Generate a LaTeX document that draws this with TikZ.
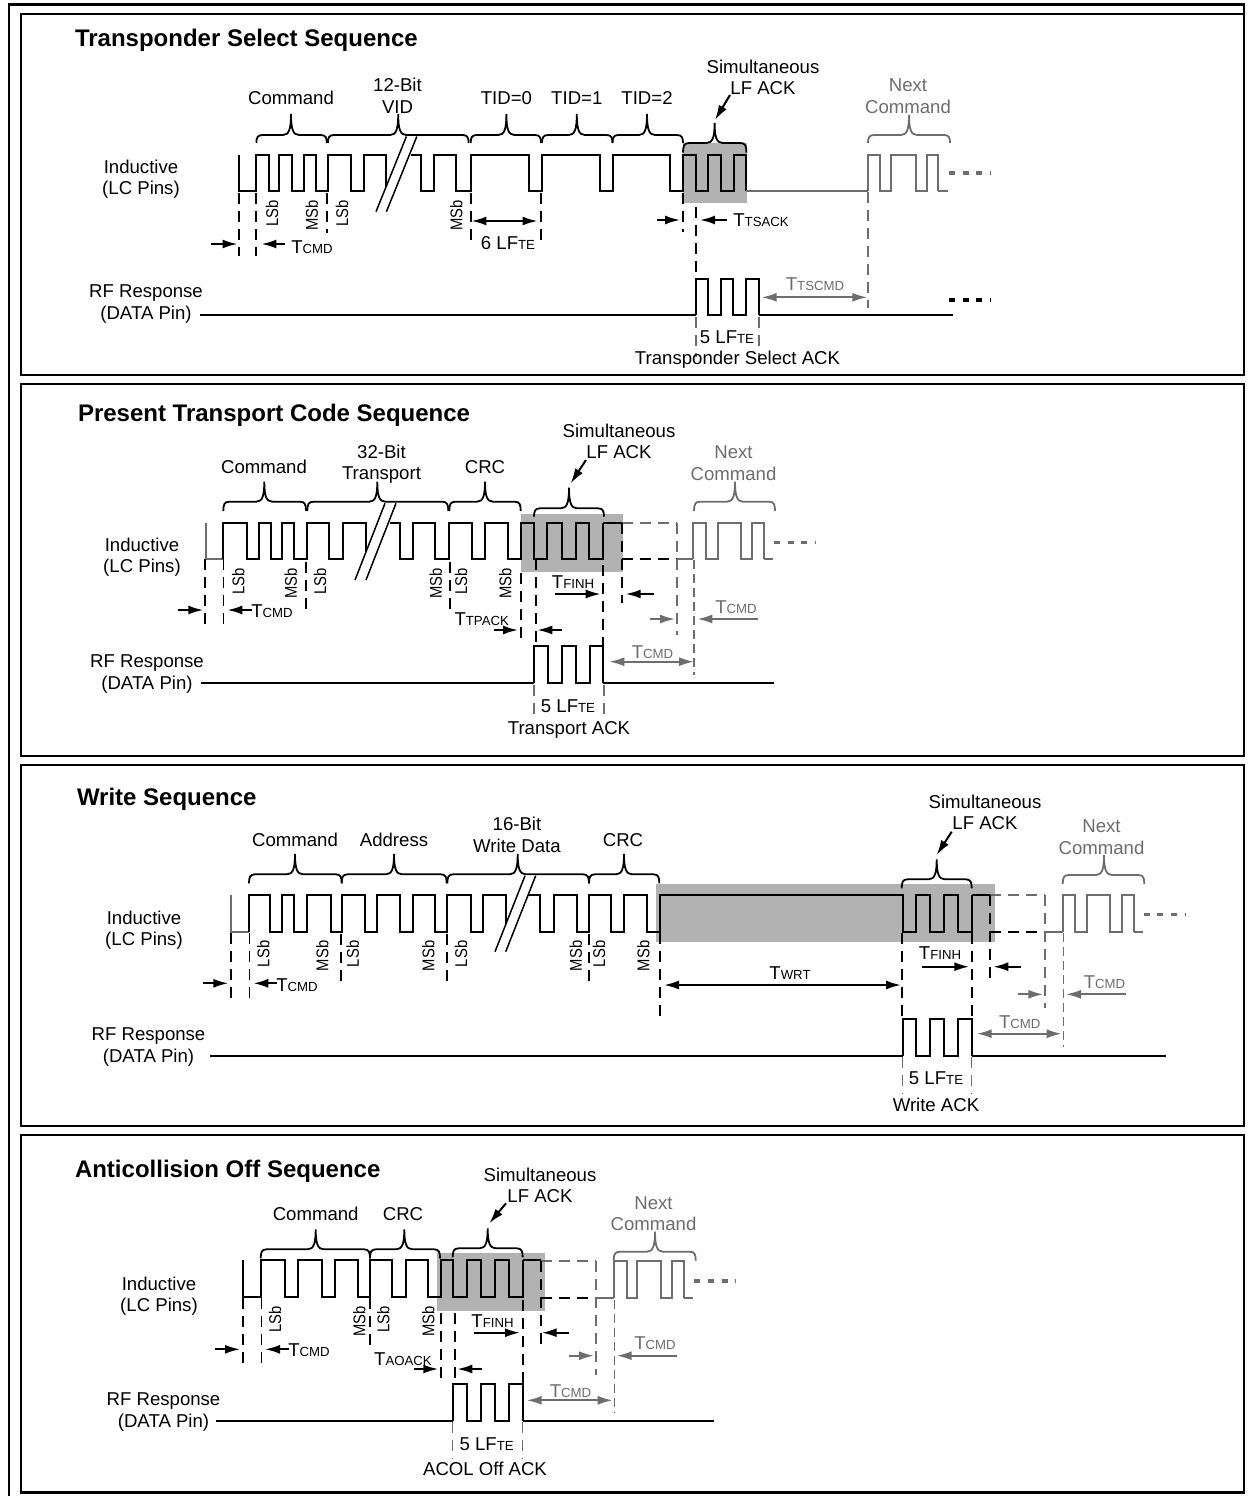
\documentclass[tikz,border=0pt]{standalone}
\usepackage{fontspec}
\usepackage{graphicx}
\setmainfont{Liberation Sans}
\usetikzlibrary{arrows.meta}
\definecolor{gw}{HTML}{6D6D6D}
\definecolor{ackfill}{HTML}{B2B2B2}
\newcounter{txc}
\newcommand\Tl[1]{T{\fontsize{13.2}{13.2}\selectfont #1}}
\tikzset{
  txt/.style={inner sep=0pt,outer sep=0pt,align=center,font=\fontsize{18.6}{21.6}\selectfont},
  ttl/.style={inner sep=0pt,outer sep=0pt,anchor=west,font=\fontsize{24}{26}\selectfont\bfseries},
  bitlab/.style={inner sep=0pt,outer sep=0pt,rotate=90,anchor=east,font=\fontsize{17}{18}\selectfont},
  frm/.style={line width=2.4pt,line cap=rect},
  wv/.style={line width=2pt,black,line join=miter},
  gwv/.style={line width=2pt,gw,line join=miter},
  brcb/.style={line width=1.8pt,black},
  brcg/.style={line width=1.8pt,gw},
  dsh/.style={line width=2pt,black,dash pattern=on 11pt off 7pt},
  thd/.style={line width=1.2pt,black,dash pattern=on 11pt off 7pt},
  gdsh/.style={line width=2pt,gw,dash pattern=on 11pt off 7pt},
  gthd/.style={line width=1.4pt,gw,dash pattern=on 11pt off 7pt},
  gtin/.style={line width=1.3pt,gw,dash pattern=on 9pt off 5pt},
  dots/.style={line width=3.2pt,dash pattern=on 6pt off 7.7pt},
  arrb/.style={line width=2pt,black,-{Latex[length=15pt,width=9pt]}},
  arrg/.style={line width=2pt,gw,-{Latex[length=15pt,width=9pt]}},
  dblb/.style={line width=2pt,black,{Latex[length=15pt,width=9pt]}-{Latex[length=15pt,width=9pt]}},
  dblg/.style={line width=2pt,gw,{Latex[length=15pt,width=9pt]}-{Latex[length=15pt,width=9pt]}},
  sl/.style={line width=1.5pt,black},
}
% text node with its own name
\newcommand\tx[4][]{\stepcounter{txc}\node[txt,#1] (t\arabic{txc}) at (#2,#3) {#4};}
\newcommand\bl[3]{\stepcounter{txc}\node[bitlab] (t\arabic{txc}) at (#1,#2) {\scalebox{0.87}[1]{#3}};}
% wave: style, start path, high, low, list of edge positions (starts at low)
\newcommand\wave[5]{\draw[#1] #2 \foreach \a [count=\i] in {#5} { -| (\a,{ifthenelse(isodd(\i),#3,#4)}) };}
% brace: style,x1,x2,xm,ytip,yh,ybot
\newcommand\brc[7]{\draw[#1] (#2,#7) .. controls (#2,{#6+3}) and ({#2+1},#6) .. ({#2+6},#6) -- ({#4-8},#6) .. controls ({#4-2},#6) and (#4,{#6-6}) .. (#4,#5) .. controls (#4,{#6-6}) and ({#4+2},#6) .. ({#4+8},#6) -- ({#3-6},#6) .. controls ({#3-1},#6) and (#3,{#6+3}) .. (#3,#7);}
% break mark: x1 y1 x2 y2 (left line) dx
\newcommand\brk[5]{\fill[white] (#1,#2) -- (#3,#4) -- ({#3+#5},#4) -- ({#1+#5},#2) -- cycle; \draw[sl] (#1,#2) -- (#3,#4); \draw[sl] ({#1+#5},#2) -- ({#3+#5},#4);}
\begin{document}
\begin{tikzpicture}[x=1pt,y=-1pt]
\useasboundingbox (0,0) rectangle (1254,1496);
\fill[white] (0,0) rectangle (1254,1496);
% frames
\draw[frm] (9,1497) -- (9,4.5) -- (1244,4.5) -- (1244,14);
\draw[frm] (21,14) rectangle (1244,374.7);
\draw[frm] (21,384) rectangle (1244,755.7);
\draw[frm] (21,765) rectangle (1244,1126);
\draw[frm] (21,1135) -- (21,1492.5) -- (1244,1492.5) -- (1244,1135) -- cycle;

%%%%%%%%%%%% PANEL 1
\fill[ackfill] (683,143) rectangle (747,202.7);
\wave{wv}{(238.6,155)--(238.6,190.7)}{155}{190.7}{256.4,268.6,279.3,292,303.6,316,327.9,350.7,363.6,386.4}
\wave{wv}{(410.7,155)--(421.4,155)--(421.4,190.7)}{155}{190.7}{434,456.4,470.7,528.6,542,600,612.5,670,683,695.7,707.9,721.4,734,746.4}
\draw[gwv] (746.4,190.7) -- (868,190.7);
\wave{gwv}{(868,190.7)--(868,190.7)}{155}{190.7}{868,880,891,916,927,938}
\draw[gwv] (938,190.7) -- (948,190.7);
\draw[gw,dots] (949,173) -- (991,173);
\brc{brcb}{256.4}{326.8}{291}{114}{135}{143}
\brc{brcb}{327.9}{468.6}{398.2}{114}{135}{143}
\brc{brcb}{470.7}{541}{506.4}{114}{135}{143}
\brc{brcb}{542}{612.5}{576.8}{114}{135}{143}
\brc{brcb}{612.5}{683}{647}{114}{135}{143}
\brc{brcb}{683}{746.4}{714.6}{123}{143}{152.7}
\brc{brcg}{868}{950}{909}{115}{135}{143}
\brk{406.4}{136.5}{376}{211.7}{10.4}
\draw[dsh] (238.6,193) -- (238.6,256);
\draw[dsh] (256.4,193) -- (256.4,256);
\draw[dsh] (327,193) -- (327,233);
\draw[dsh] (470.7,193) -- (470.7,243);
\draw[dsh] (541,193) -- (541,243);
\draw[dsh] (683,193) -- (683,232);
\draw[dsh] (695.7,206.7) -- (695.7,278);
\draw[gdsh] (868,191.7) -- (868,308.3);
\draw[gthd] (696,317) -- (696,357);
\draw[gthd] (759,317) -- (759,357);
\coordinate (a1s) at (730,95); \coordinate (a1e) at (715,120);
\draw[arrb] (a1s) -- (a1e);
\draw[arrb] (211.4,244) -- (237.5,244);
\draw[arrb] (285,244) -- (261.4,244);
\draw[dblb] (471.4,221) -- (537.5,221);
\draw[arrb] (657,220) -- (680,220);
\draw[arrb] (726.7,220) -- (700,220);
\draw[dblg] (761.7,297.3) -- (867.3,297.3);
\draw[wv] (200,315.2) -- (696.2,315.2);
\wave{wv}{(696.2,315.2)--(696.2,315.2)}{279}{315.2}{696.2,708.3,720.7,733.3,746,759}
\draw[wv] (759,315.2) -- (953.3,315.2);
\draw[dots] (949,300) -- (991,300);
\tx[ttl]{75}{40}{Transponder Select Sequence}
\tx{141}{179}{Inductive\\(LC Pins)}
\tx{146}{304}{RF Response\\(DATA Pin)}
\tx{291}{98}{Command}
\tx{397.5}{96}{12-Bit\\VID}
\tx{506.4}{98}{TID=0}
\tx{576.8}{98}{TID=1}
\tx{647}{98}{TID=2}
\tx{763}{77.5}{Simultaneous\\LF ACK}
\tx[text=gw]{908}{96}{Next\\Command}
\tx{312}{247}{\Tl{CMD}}
\tx{508}{243}{6 LF{\fontsize{13.2}{13.2}\selectfont TE}}
\tx{761}{220}{\Tl{TSACK}}
\tx[text=gw]{815}{284}{\Tl{TSCMD}}
\tx{727}{337}{5 LF{\fontsize{13.2}{13.2}\selectfont TE}}
\tx{737.5}{360}{Transponder Select ACK}
\bl{272}{200}{LSb}
\bl{311.8}{200}{MSb}
\bl{342}{200}{LSb}
\bl{456.4}{200}{MSb}

%%%%%%%%%%%% PANEL 2
\fill[ackfill] (520.7,514) rectangle (622.7,571.7);
\draw[gwv] (205.7,522.7) -- (205.7,558.7) -- (222.7,558.7);
\wave{wv}{(222.7,558.7)--(222.7,558.7)}{522.7}{558.7}{222.7,247.3,259,270.7,281.7,294,306.7,329.3,342.7,366}
\wave{wv}{(390,522.7)--(400,522.7)--(400,558.7)}{522.7}{558.7}{412.7,435,449.3,471.7,485,507.7,520.7,534,547.3,561.7,575.7,589.3,603.3}
\draw[wv] (603.3,522.7) -- (621.7,522.7);
\draw[dsh] (621.7,558.7) -- (676,558.7);
\draw[gdsh] (621.7,522.7) -- (676.7,522.7);
\draw[gdsh] (676.7,522.7) -- (676.7,635);
\draw[gwv] (676.7,558.7) -- (693.3,558.7);
\wave{gwv}{(693.3,558.7)--(693.3,558.7)}{522.7}{558.7}{693.3,706,718.3,740.7,752.3,764}
\draw[gwv] (764,558.7) -- (773.3,558.7);
\draw[gw,dots] (774,542.3) -- (816,542.3);
\brc{brcb}{223.3}{306}{264.3}{481.7}{501.7}{511}
\brc{brcb}{307.3}{448.3}{377.3}{481.7}{501.7}{511}
\brc{brcb}{449.3}{520.7}{485}{481.7}{501.7}{511}
\brc{brcb}{534}{604}{569}{487.7}{508.3}{516.7}
\brc{brcg}{694}{775}{735}{481.7}{501.7}{511}
\brk{385}{503.3}{355}{580}{11}
\draw[dsh] (205,559) -- (205,628);
\draw[thd] (223.3,559) -- (223.3,628);
\draw[dsh] (306,561.7) -- (306,610);
\draw[dsh] (450,561.7) -- (450,610);
\draw[dsh] (520.7,573) -- (520.7,641.7);
\draw[dsh] (535.7,559.3) -- (535.7,643);
\draw[dsh] (603.3,565) -- (603.3,646);
\draw[dsh] (621.7,523) -- (621.7,603);
\draw[gtin] (694,560) -- (694,675);
\draw[gthd] (534,685) -- (534,718.3);
\draw[gthd] (604,685) -- (604,718.3);
\coordinate (a2s) at (586,460); \coordinate (a2e) at (570.7,483.3);
\draw[arrb] (a2s) -- (a2e);
\draw[arrb] (178.3,610) -- (203.3,610);
\draw[arrb] (251.7,610) -- (227.3,610);
\draw[arrb] (494,630) -- (518,630);
\draw[arrb] (562.3,630) -- (537.3,630);
\draw[arrb] (555,594) -- (600.7,594);
\draw[arrb] (654,594) -- (625.7,594);
\draw[arrg] (650,619) -- (675,619);
\draw[arrg] (757.7,619) -- (697.3,619);
\draw[dblg] (609.3,661.7) -- (694,661.7);
\draw[wv] (201,682.7) -- (534,682.7);
\wave{wv}{(534,682.7)--(534,682.7)}{645.7}{682.7}{534,547.7,561.7,576,590,603.3}
\draw[wv] (603.3,682.7) -- (774,682.7);
\tx[ttl]{78}{415}{Present Transport Code Sequence}
\tx{142}{557}{Inductive\\(LC Pins)}
\tx{147}{674}{RF Response\\(DATA Pin)}
\tx{264}{467}{Command}
\tx{381.5}{464}{32-Bit\\Transport}
\tx{485}{467}{CRC}
\tx{619}{441.5}{Simultaneous\\LF ACK}
\tx[text=gw]{733.5}{463}{Next\\Command}
\tx{272}{611}{\Tl{CMD}}
\tx{481.7}{619}{\Tl{TPACK}}
\tx{573}{581.7}{\Tl{FINH}}
\tx[text=gw]{736}{606.7}{\Tl{CMD}}
\tx[text=gw]{652.5}{651.7}{\Tl{CMD}}
\tx{568}{706}{5 LF{\fontsize{13.2}{13.2}\selectfont TE}}
\tx{569}{730}{Transport ACK}
\bl{238.3}{568}{LSb}
\bl{290.7}{568}{MSb}
\bl{320}{568}{LSb}
\bl{435.7}{568}{MSb}
\bl{461}{568}{LSb}
\bl{505.4}{568}{MSb}

%%%%%%%%%%%% PANEL 3
\fill[ackfill] (656,884) rectangle (995,941.7);
\draw[gwv] (230.7,895) -- (230.7,931.7) -- (249,931.7);
\wave{wv}{(249,931.7)--(249,931.7)}{895}{931.7}{249,270,281.7,294,306.7,330.7,341.7,365,377.3,400,412.7,435,447.3,470.7,483.3,505.7}
\wave{wv}{(528.3,895)--(540,895)--(540,931.7)}{895}{931.7}{554,576.7,589,611,624,646.7,660,902.7,915.7,930,944,958.3,972.3}
\draw[wv] (972.3,895) -- (990,895);
\draw[dsh] (990,931.7) -- (1045,931.7);
\draw[gdsh] (990,895) -- (1045,895);
\draw[gdsh] (1045,895) -- (1045,1008);
\draw[gwv] (1045,931.7) -- (1062.7,931.7);
\wave{gwv}{(1062.7,931.7)--(1062.7,931.7)}{895}{931.7}{1062.7,1075,1086.7,1110,1121.7,1134.3}
\draw[gwv] (1134.3,931.7) -- (1143.3,931.7);
\draw[gw,dots] (1143.5,914.3) -- (1185.5,914.3);
\brc{brcb}{249}{341.7}{295}{854}{874.3}{883.3}
\brc{brcb}{341.7}{446.7}{394}{854}{874.3}{883.3}
\brc{brcb}{447.3}{589}{517.7}{854}{874.3}{883.3}
\brc{brcb}{589}{659.3}{624}{854}{874.3}{883.3}
\brc{brcb}{901.7}{971.7}{936.7}{859.3}{879.3}{888.3}
\brc{brcg}{1062.7}{1144.3}{1104}{855}{875}{884}
\brk{525}{875.7}{495}{951.7}{10.7}
\draw[dsh] (230.7,933) -- (230.7,999);
\draw[thd] (249.3,933) -- (249.3,999);
\draw[dsh] (341,934) -- (341,982);
\draw[dsh] (446.7,934) -- (446.7,982);
\draw[dsh] (589,934) -- (589,982);
\draw[dsh] (660,933) -- (660,1020);
\draw[dsh] (902,933) -- (902,1017);
\draw[dsh] (971.7,933) -- (971.7,1018);
\draw[dsh] (990,895) -- (990,982);
\draw[gtin] (1063.3,933) -- (1063.3,1047);
\draw[gthd] (902.7,1057) -- (902.7,1093.3);
\draw[gthd] (971.7,1057) -- (971.7,1093.3);
\coordinate (a3s) at (951.7,831.7); \coordinate (a3e) at (936.7,855);
\draw[arrb] (a3s) -- (a3e);
\draw[arrb] (203.3,983.3) -- (228.3,983.3);
\draw[arrb] (277.3,983.3) -- (253.3,983.3);
\draw[dblb] (664,985) -- (901,985);
\draw[arrb] (921.7,966.7) -- (969.3,966.7);
\draw[arrb] (1021,966.7) -- (993.3,966.7);
\draw[arrg] (1018.3,994.3) -- (1043.3,994.3);
\draw[arrg] (1126,994.3) -- (1066,994.3);
\draw[dblg] (976.7,1033.7) -- (1061.7,1033.7);
\draw[wv] (210,1055.7) -- (902.7,1055.7);
\wave{wv}{(902.7,1055.7)--(902.7,1055.7)}{1019}{1055.7}{902.7,915.7,930,944,958.3,971.7}
\draw[wv] (971.7,1055.7) -- (1166,1055.7);
\tx[ttl]{77}{799}{Write Sequence}
\tx{144}{930}{Inductive\\(LC Pins)}
\tx{148.5}{1047}{RF Response\\(DATA Pin)}
\tx{295}{840}{Command}
\tx{394}{840}{Address}
\tx{517}{835}{16-Bit\\Write Data}
\tx{623}{840}{CRC}
\tx{985}{812.5}{Simultaneous\\LF ACK}
\tx[text=gw]{1101.5}{837}{Next\\Command}
\tx{297}{985}{\Tl{CMD}}
\tx{790}{973}{\Tl{WRT}}
\tx{940}{953.3}{\Tl{FINH}}
\tx[text=gw]{1104.5}{982.3}{\Tl{CMD}}
\tx[text=gw]{1019.7}{1022.3}{\Tl{CMD}}
\tx{936}{1078.3}{5 LF{\fontsize{13.2}{13.2}\selectfont TE}}
\tx{936}{1105}{Write ACK}
\bl{263.3}{940.7}{LSb}
\bl{322.3}{940.7}{MSb}
\bl{352.7}{940.7}{LSb}
\bl{428.3}{940.7}{MSb}
\bl{461}{940.7}{LSb}
\bl{575.7}{940.7}{MSb}
\bl{599}{940.7}{LSb}
\bl{643.3}{940.7}{MSb}

%%%%%%%%%%%% PANEL 4
\fill[ackfill] (437.3,1252.7) rectangle (545,1310.7);
\wave{wv}{(243.3,1260)--(243.3,1297.3)}{1260}{1297.3}{260.7,285,297.7,321.7,335,358.3,370,391.7,405.7,427.7,440.7,452.7,467.3,481,495,509,523.3}
\draw[wv] (523.3,1260) -- (541,1260);
\draw[dsh] (541,1298) -- (596,1298);
\draw[gdsh] (541,1261) -- (596,1261);
\draw[gdsh] (596,1261) -- (596,1375);
\draw[gwv] (596,1298) -- (613.7,1298);
\wave{gwv}{(613.7,1298)--(613.7,1298)}{1261}{1298}{613.7,626.7,636.7,660.7,672.3,684.3}
\draw[gwv] (684.3,1298) -- (693.3,1298);
\draw[gw,dots] (694.3,1281) -- (736.3,1281);
\brc{brcb}{260.7}{370}{315.7}{1229.3}{1249.3}{1258.3}
\brc{brcb}{370}{440}{404.3}{1229.3}{1249.3}{1258.3}
\brc{brcb}{452.7}{522.7}{487.7}{1228.3}{1248.3}{1257.3}
\brc{brcg}{613.7}{695.7}{655}{1231.7}{1251.7}{1260.7}
\draw[dsh] (243.3,1298.3) -- (243.3,1366.7);
\draw[thd] (261.7,1298.3) -- (261.7,1366.7);
\draw[dsh] (370,1298.3) -- (370,1346.7);
\draw[dsh] (440.7,1313) -- (440.7,1380);
\draw[dsh] (455,1313) -- (455,1380);
\draw[dsh] (523.3,1300) -- (523.3,1383.3);
\draw[dsh] (541,1261) -- (541,1345);
\draw[gtin] (614.3,1300) -- (614.3,1413.3);
\draw[gthd] (452.7,1421.7) -- (452.7,1458.3);
\draw[gthd] (522.7,1421.7) -- (522.7,1458.3);
\coordinate (a4s) at (506,1203.3); \coordinate (a4e) at (489.3,1223.3);
\draw[arrb] (a4s) -- (a4e);
\draw[arrb] (215,1349.3) -- (240,1349.3);
\draw[arrb] (289.3,1349.3) -- (265,1349.3);
\draw[arrb] (414,1369) -- (438.3,1369);
\draw[arrb] (481.7,1369) -- (457.3,1369);
\draw[arrb] (474,1332.7) -- (520,1332.7);
\draw[arrb] (569,1332.7) -- (541.7,1332.7);
\draw[arrg] (569,1355.7) -- (594,1355.7);
\draw[arrg] (676.7,1355.7) -- (616.7,1355.7);
\draw[dblg] (526.7,1400.3) -- (612.7,1400.3);
\draw[wv] (216,1420.7) -- (452.7,1420.7);
\wave{wv}{(452.7,1420.7)--(452.7,1420.7)}{1384.3}{1420.7}{452.7,466.7,481,495,509,522.7}
\draw[wv] (522.7,1420.7) -- (714,1420.7);
\tx[ttl]{75}{1171}{Anticollision Off Sequence}
\tx{159}{1296}{Inductive\\(LC Pins)}
\tx{163.5}{1412}{RF Response\\(DATA Pin)}
\tx{315.7}{1214}{Command}
\tx{403}{1214}{CRC}
\tx{540}{1185.5}{Simultaneous\\LF ACK}
\tx[text=gw]{653.5}{1213.5}{Next\\Command}
\tx{309}{1350}{\Tl{CMD}}
\tx{403}{1359}{\Tl{AOACK}}
\tx{492.5}{1320.7}{\Tl{FINH}}
\tx[text=gw]{655}{1342.7}{\Tl{CMD}}
\tx[text=gw]{570.5}{1390.7}{\Tl{CMD}}
\tx{486.7}{1444.3}{5 LF{\fontsize{13.2}{13.2}\selectfont TE}}
\tx{485}{1469.3}{ACOL Off ACK}
\bl{275}{1306}{LSb}
\bl{359.3}{1306}{MSb}
\bl{383.3}{1306}{LSb}
\bl{428.3}{1306}{MSb}
\end{tikzpicture}
\end{document}
